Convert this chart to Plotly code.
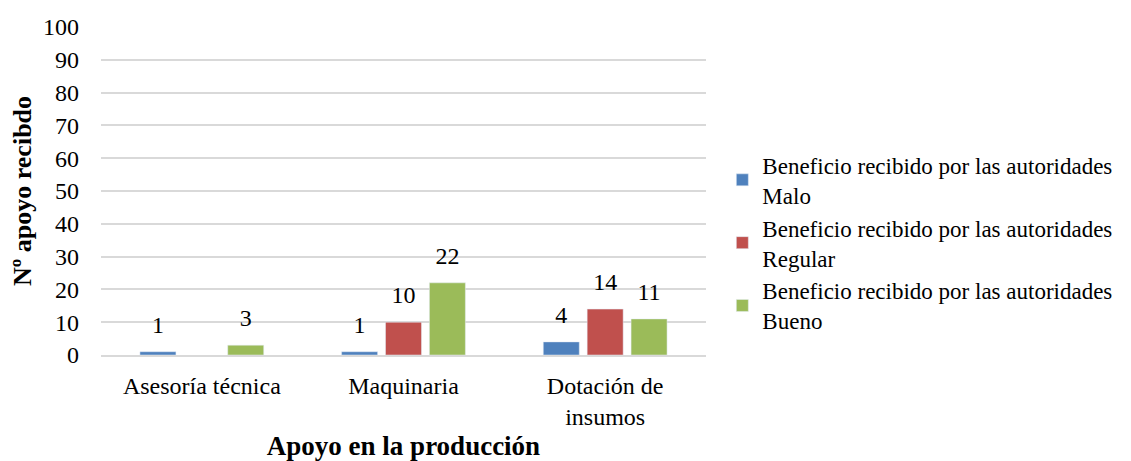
import plotly.graph_objects as go

categories = ["Asesoría técnica", "Maquinaria", "Dotación de<br>insumos"]
series_names = [
    "Beneficio recibido por las autoridades<br>Malo",
    "Beneficio recibido por las autoridades<br>Regular",
    "Beneficio recibido por las autoridades<br>Bueno",
]
malo = [1, 1, 4]
regular = [None, 10, 14]
bueno = [3, 22, 11]
colors = ["#4F81BD", "#C0504D", "#9BBB59"]
y_ticks = list(range(0, 101, 10))

FONT = "Liberation Serif"
FS = 24
GAP = 0.347

fig = go.Figure()
for i, (name, vals, col) in enumerate(zip(series_names, [malo, regular, bueno], colors)):
    fig.add_trace(go.Bar(
        x=categories, y=vals, name=name, marker_color=col,
        offsetgroup=str(i), hoverinfo="x+y",
    ))
# value labels, grouped like the bars
for i, vals in enumerate([malo, regular, bueno]):
    fig.add_trace(go.Scatter(
        x=categories, y=vals, mode="markers+text",
        text=[("" if v is None else str(v)) for v in vals],
        textposition="top center", offsetgroup=str(i),
        marker=dict(size=19, color="rgba(0,0,0,0)"),
        textfont=dict(family=FONT, size=FS, color="#000"),
        showlegend=False, hoverinfo="skip", cliponaxis=False,
    ))

# page body has an 8px default margin; compensate so the figure fills the window
fig.update_layout(
    width=1123, height=453,
    margin=dict(l=93, r=425, t=19, b=106, autoexpand=False),
    paper_bgcolor="white", plot_bgcolor="white",
    barmode="group", bargap=GAP, bargroupgap=0.18,
    scattermode="group", scattergap=GAP,
    font=dict(family=FONT, size=FS, color="#000"),
    legend=dict(x=1.027, xanchor="left", y=0.645, yanchor="top",
                font=dict(family=FONT, size=23, color="#000"),
                tracegroupgap=7, itemwidth=30),
    showlegend=True,
)
fig.update_yaxes(
    range=[0, 100], tickvals=y_ticks, showgrid=True, gridcolor="#D9D9D9", gridwidth=1.5,
    zeroline=False, showline=False, ticks="", automargin=False, ticklabelstandoff=21,
    title=dict(text="<b>Nº apoyo recibdo</b>", font=dict(family=FONT, size=26), standoff=8),
    tickfont=dict(family=FONT, size=FS),
)
fig.update_xaxes(
    showline=True, linecolor="#D9D9D9", linewidth=1.5, ticks="", automargin=False,
    tickfont=dict(family=FONT, size=FS), ticklabelstandoff=8,
    title=dict(text="<b>Apoyo en la producción</b>", font=dict(family=FONT, size=27), standoff=10),
)

fig.write_html("out.html")
